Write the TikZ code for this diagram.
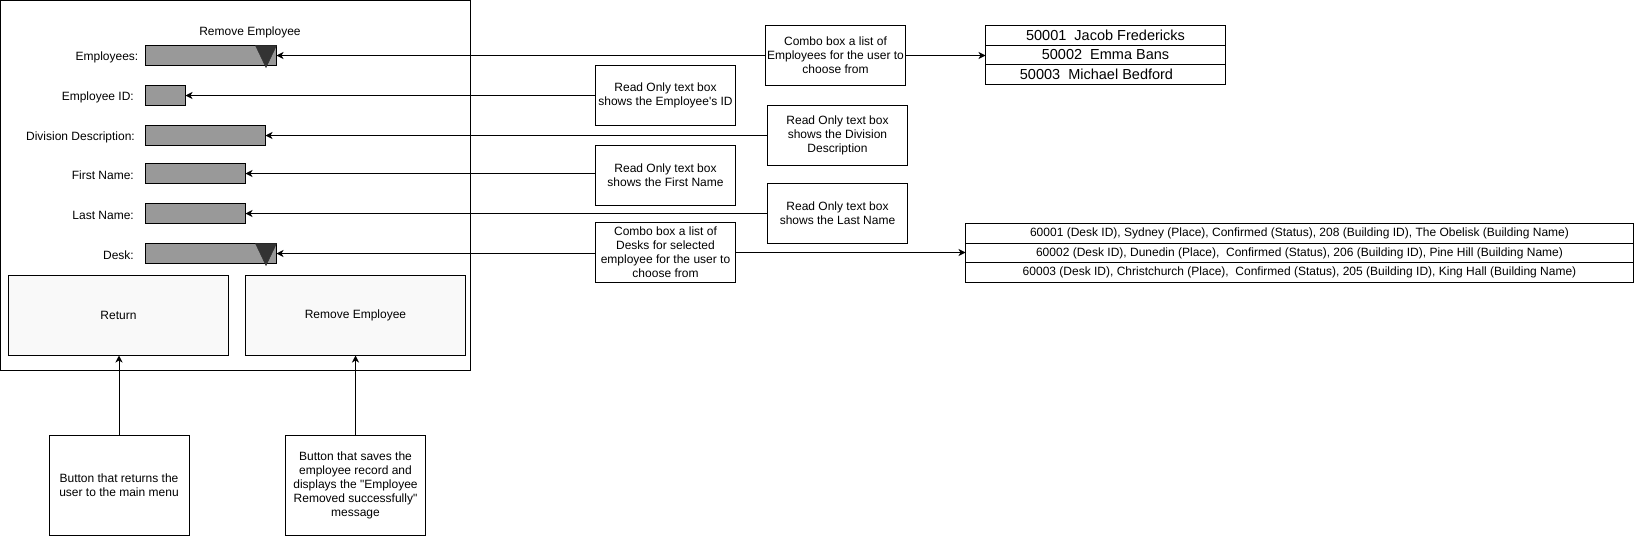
\documentclass[tikz,border=0pt]{standalone}
\usepackage{fontspec}
\setmainfont{Liberation Sans}
\usepackage{tikz}
\usetikzlibrary{arrows.meta,positioning}
\definecolor{fieldgray}{HTML}{999999}
\definecolor{dropdark}{HTML}{333333}
\definecolor{btnfill}{HTML}{F9F9F9}
\newcommand{\uifont}{\fontsize{12}{14}\selectfont}
\tikzset{
  screenbox/.style={
    draw, line width=1pt, inner sep=0pt, outer sep=0pt, anchor=north west
  },
  fieldlabel/.style={anchor=east, inner sep=0pt, font=\uifont},
  fieldbox/.style={
    draw, line width=1pt, fill=fieldgray, minimum height=20pt,
    inner sep=0pt, outer sep=0pt, anchor=north west
  },
  buttonbox/.style={
    draw, line width=1pt, fill=btnfill, minimum width=220pt,
    minimum height=80pt, inner sep=0pt, outer sep=0pt,
    anchor=north west, font=\uifont
  },
  notebox/.style={
    draw, line width=1pt, fill=white, minimum width=140pt,
    minimum height=60pt, align=center, inner sep=0pt, outer sep=0pt,
    anchor=north west, font=\uifont
  },
  listrow/.style={
    draw, line width=1pt, fill=white, minimum height=19.67pt,
    inner sep=0pt, outer sep=0pt
  },
  notearrow/.style={-{Stealth[length=7pt,width=7pt,inset=2pt]}, line width=1pt},
}

\begin{document}
\begin{tikzpicture}[x=1pt, y=-1pt, node distance=0pt]
  \useasboundingbox (0,0) rectangle (1636,536);
  \node[screenbox, minimum width=469.5pt, minimum height=369.5pt] (screen) at (0.5,0.5) {};
  \node[font=\uifont] (title) at (250,32) {Remove Employee};

  \node[fieldlabel] (emplabel) at (138.5,57.5) {Employees:};
  \node[fieldlabel] (idlabel) at (134,97.5) {Employee ID:};
  \node[fieldlabel] (divlabel) at (135,137) {Division Description:};
  \node[fieldlabel] (firstlabel) at (134,175.5) {First Name:};
  \node[fieldlabel] (lastlabel) at (134,215) {Last Name:};
  \node[fieldlabel] (desklabel) at (134,255) {Desk:};

  \node[fieldbox, minimum width=131pt] (empfield) at (145.5,45.5) {};
  \node[fieldbox, minimum width=40pt] (idfield) at (145.5,85.5) {};
  \node[fieldbox, minimum width=120pt] (divfield) at (145.5,125.5) {};
  \node[fieldbox, minimum width=100pt] (firstfield) at (145.5,163.5) {};
  \node[fieldbox, minimum width=100pt] (lastfield) at (145.5,203.5) {};
  \node[fieldbox, minimum width=131pt] (deskfield) at (145.5,243.5) {};
  \foreach \combo in {empfield,deskfield}
    \filldraw[dropdark, line width=0.5pt] ([xshift=-21pt]\combo.north east) -- (\combo.north east)
      -- ([xshift=-10.5pt,yshift=-2pt]\combo.south east) -- cycle;

  \node[buttonbox] (returnbtn) at (8.5,275.5) {Return};
  \node[buttonbox] (removebtn) at (245.5,275.5) {Remove Employee};

  \node[notebox] (empnote) at (765.5,25.5) {Combo box a list of\\Employees for the user to\\choose from};
  \node[notebox] (idnote) at (595.5,65.5) {Read Only text box\\shows the Employee\textquotesingle s ID};
  \node[notebox] (divnote) at (767.5,105.5) {Read Only text box\\shows the Division\\Description};
  \node[notebox] (firstnote) at (595.5,145.5) {Read Only text box\\shows the First Name};
  \node[notebox] (lastnote) at (767.5,183.5) {Read Only text box\\shows the Last Name};
  \node[notebox] (desknote) at (595.5,222.5) {Combo box a list of\\Desks for selected\\employee for the user to\\choose from};
  \node[notebox, minimum height=100pt] (returnnote) at (49,435) {Button that returns the\\user to the main menu};
  \node[notebox, minimum height=100pt] (removenote) at (285.5,435) {Button that saves the\\employee record and\\displays the \textquotedbl Employee\\Removed successfully\textquotedbl\\message};

  \node[listrow, minimum width=240pt, anchor=north west, font=\fontsize{14.5}{16}\selectfont] (emprow1) at (985.5,25.5) {50001\ \ Jacob Fredericks};
  \node[listrow, minimum width=240pt, below=of emprow1, font=\fontsize{14.5}{16}\selectfont] (emprow2) {50002\ \ Emma Bans};
  \node[listrow, minimum width=240pt, below=of emprow2, font=\fontsize{14.5}{16}\selectfont] (emprow3) {50003\ \ Michael Bedford\hspace*{18pt}};

  \node[listrow, minimum width=668pt, anchor=north west, font=\uifont] (deskrow1) at (965.5,223.5) {60001 (Desk ID), Sydney (Place), Confirmed (Status), 208 (Building ID), The Obelisk (Building Name)};
  \node[listrow, minimum width=668pt, below=of deskrow1, font=\uifont] (deskrow2) {60002 (Desk ID), Dunedin (Place),\ \ Confirmed (Status), 206 (Building ID), Pine Hill (Building Name)};
  \node[listrow, minimum width=668pt, below=of deskrow2, font=\uifont] (deskrow3) {60003 (Desk ID), Christchurch (Place),\ \ Confirmed (Status), 205 (Building ID), King Hall (Building Name)};

  \draw[notearrow] (empnote.west) -- (empfield.east);
  \draw[notearrow] (idnote.west) -- (idfield.east);
  \draw[notearrow] (divnote.west) -- (divfield.east);
  \draw[notearrow] (firstnote.west |- firstfield.east) -- (firstfield.east);
  \draw[notearrow] (lastnote.west) -- (lastfield.east);
  \draw[notearrow] (desknote.west |- deskfield.east) -- (deskfield.east);
  \draw[notearrow] (empnote.east) -- (empnote.east -| emprow2.west);
  \draw[notearrow] (desknote.east) -- (desknote.east -| deskrow2.west);
  \draw[notearrow] (returnnote.north) -- (returnnote.north |- returnbtn.south);
  \draw[notearrow] (removenote.north) -- (removenote.north |- removebtn.south);
\end{tikzpicture}
\end{document}
